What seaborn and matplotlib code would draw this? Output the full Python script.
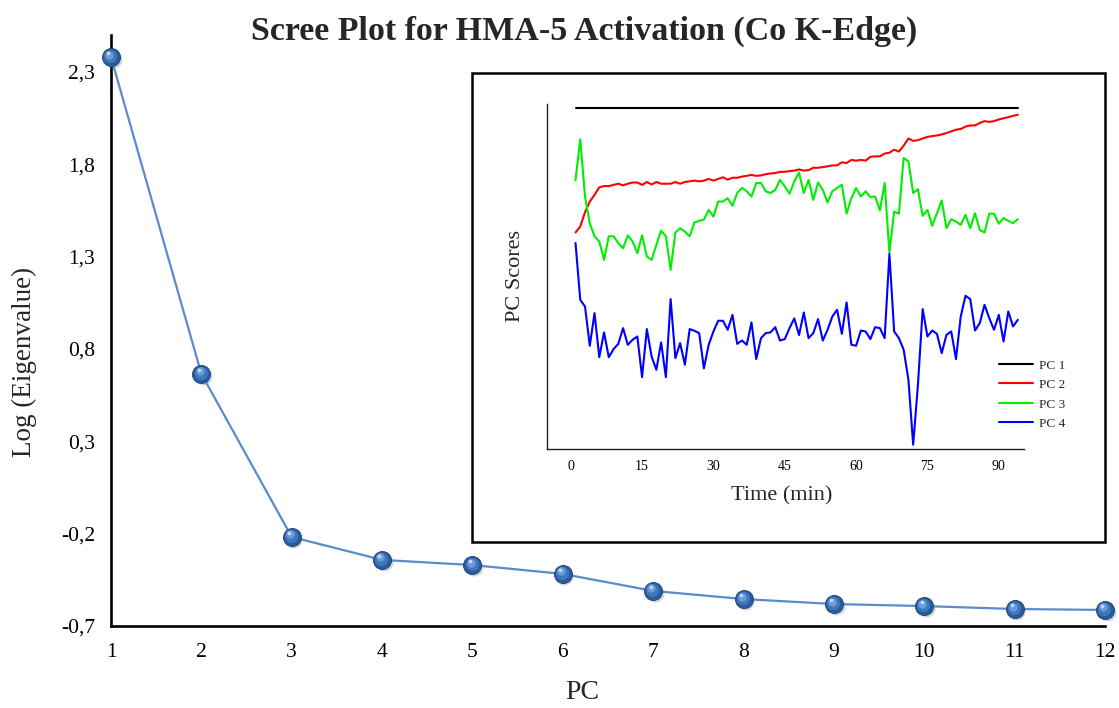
import numpy as np
import pandas as pd
import matplotlib
matplotlib.use("Agg")
import matplotlib.pyplot as plt
import matplotlib.transforms as mtransforms
from matplotlib.patches import Rectangle
from matplotlib.ticker import FixedLocator, MultipleLocator
import seaborn as sns

# ---- scree data ----
components = list(range(1, 13))
log_eigenvalues = [2.38, 0.665, -0.218, -0.342, -0.370, -0.418,
                   -0.510, -0.554, -0.581, -0.592, -0.608, -0.613]
y_ticks = [-0.7, -0.2, 0.3, 0.8, 1.3, 1.8, 2.3]
y_tick_labels = ["-0,7", "-0,2", "0,3", "0,8", "1,3", "1,8", "2,3"]
x_ticks = components

# ---- PC score traces (arbitrary units) ----
time_min = list(range(1, 95))
pc1_level = 13.33
pc1 = [pc1_level] * len(time_min)
pc2 = [8.10, 8.35, 8.95, 9.40, 9.68, 10.00, 10.05, 10.05, 10.10, 10.15,
       10.08, 10.15, 10.20, 10.20, 10.10, 10.22, 10.12, 10.22, 10.15, 10.15,
       10.15, 10.22, 10.15, 10.22, 10.25, 10.28, 10.25, 10.28, 10.35, 10.28,
       10.35, 10.42, 10.32, 10.40, 10.40, 10.45, 10.48, 10.52, 10.48, 10.50,
       10.55, 10.58, 10.60, 10.65, 10.65, 10.68, 10.70, 10.75, 10.70, 10.72,
       10.82, 10.82, 10.85, 10.88, 10.92, 10.92, 11.05, 11.02, 11.15, 11.12,
       11.15, 11.12, 11.28, 11.30, 11.30, 11.42, 11.45, 11.58, 11.50, 11.75,
       12.05, 11.95, 11.98, 12.05, 12.12, 12.15, 12.18, 12.22, 12.28, 12.35,
       12.42, 12.45, 12.55, 12.60, 12.60, 12.70, 12.78, 12.75, 12.78, 12.85,
       12.90, 12.95, 13.00, 13.05]
pc3 = [10.29, 12.02, 9.61, 8.49, 7.94, 7.72, 6.95, 7.94, 7.94, 7.65,
       7.44, 7.98, 7.72, 7.23, 7.98, 7.09, 6.95, 7.58, 8.18, 7.94,
       6.53, 8.10, 8.28, 8.14, 7.94, 8.52, 8.59, 8.64, 9.05, 8.77,
       9.40, 9.40, 9.54, 9.22, 9.76, 9.97, 9.83, 9.61, 10.18, 10.18,
       9.83, 9.76, 9.89, 10.31, 10.04, 9.73, 10.25, 10.62, 9.76, 10.31,
       9.47, 10.20, 9.89, 9.36, 9.83, 9.97, 10.11, 8.89, 9.54, 9.97,
       9.61, 9.83, 9.59, 9.61, 9.03, 10.18, 7.25, 8.98, 8.89, 11.23,
       11.09, 9.76, 9.92, 8.80, 9.05, 8.38, 8.91, 9.45, 8.28, 8.66,
       8.56, 8.42, 8.84, 8.28, 8.91, 8.21, 8.10, 8.89, 8.89, 8.47,
       8.71, 8.59, 8.49, 8.66]
pc4 = [7.66, 5.27, 4.99, 3.34, 4.71, 2.86, 3.90, 2.86, 3.20, 3.42,
       4.08, 3.38, 3.59, 3.73, 2.02, 4.04, 2.89, 2.33, 3.48, 2.02,
       5.30, 2.82, 3.45, 2.54, 4.04, 3.97, 3.87, 2.39, 3.38, 3.94,
       4.39, 4.39, 4.01, 4.64, 3.42, 3.56, 3.38, 4.32, 2.78, 3.66,
       3.87, 3.90, 4.12, 3.56, 3.62, 4.08, 4.49, 3.79, 4.74, 3.66,
       3.87, 4.46, 3.56, 4.01, 4.57, 4.85, 3.84, 5.16, 3.38, 3.34,
       3.98, 3.94, 3.62, 4.12, 4.08, 3.66, 7.20, 3.94, 3.66, 3.17,
       1.91, -0.82, 1.70, 4.88, 3.73, 3.98, 3.84, 3.03, 3.80, 3.94,
       2.78, 4.57, 5.44, 5.30, 3.98, 4.29, 5.06, 4.50, 4.01, 4.64,
       3.52, 4.78, 4.15, 4.43]
pc_names = ["PC 1", "PC 2", "PC 3", "PC 4"]
pc_colors = {"PC 1": "#000000", "PC 2": "#FF0000", "PC 3": "#00EE00", "PC 4": "#0000FF"}
inset_x_ticks = [0, 15, 30, 45, 60, 75, 90]

sns.set_style("white")
plt.rcParams["font.family"] = ["Liberation Serif", "DejaVu Serif"]

fig = plt.figure(figsize=(11.19, 7.08), dpi=100)

# ---------------- main scree plot ----------------
ax = fig.add_axes([0.0992, 0.1158, 0.8883, 0.8348])
scree = pd.DataFrame({"PC": components, "LogEig": log_eigenvalues})
sns.lineplot(data=scree, x="PC", y="LogEig", ax=ax, color="#5B8BCB",
             lw=1.6, zorder=2)

def shifted(dx, dy):
    return ax.transData + mtransforms.ScaledTranslation(dx / 72, dy / 72, fig.dpi_scale_trans)

# sphere-like markers built from layered discs
ax.plot(components, log_eigenvalues, "o", ms=13, color="#7f8c9c", alpha=0.35,
        mew=0, transform=shifted(1.2, -1.6), clip_on=False, zorder=3)
ax.plot(components, log_eigenvalues, "o", ms=13, mfc="#2A5B9B", mec="#1D4478",
        mew=0.6, clip_on=False, zorder=4)
ax.plot(components, log_eigenvalues, "o", ms=9.5, color="#3F77BC", mew=0,
        transform=shifted(-0.6, 0.8), clip_on=False, zorder=5)
ax.plot(components, log_eigenvalues, "o", ms=6.0, color="#6C9BD6", mew=0,
        transform=shifted(-1.3, 1.8), clip_on=False, zorder=6)
ax.plot(components, log_eigenvalues, "o", ms=2.6, color="#C4DAF4", mew=0,
        transform=shifted(-1.9, 2.7), clip_on=False, zorder=7)

ax.set_xlim(1, 12)
ax.set_ylim(-0.7, 2.5)
ax.set_xticks(x_ticks)
ax.yaxis.set_major_locator(FixedLocator(y_ticks))
ax.set_yticklabels(y_tick_labels)
for side in ("top", "right"):
    ax.spines[side].set_visible(False)
for side in ("left", "bottom"):
    ax.spines[side].set_linewidth(1.9)
    ax.spines[side].set_color("black")
ax.tick_params(axis="both", direction="inout", length=11, width=1.6,
               colors="black", labelsize=15.5)
ax.tick_params(axis="x", pad=7)
ax.tick_params(axis="y", pad=6)
ax.set_xlabel("PC", fontsize=20)
ax.set_ylabel("Log (Eigenvalue)", fontsize=19.5)
ax.xaxis.set_label_coords(0.474, -0.0914)
ax.yaxis.set_label_coords(-0.0744, 0.447)

fig.text(584 / 1119, 1 - 31 / 708, "Scree Plot for HMA-5 Activation (Co K-Edge)",
         ha="center", va="center", fontsize=24.5, fontweight="bold")

# ---------------- inset: PC scores over time ----------------
frame = Rectangle((0.4218, 0.2345), 0.5657, 0.6624, transform=fig.transFigure,
                  facecolor="white", edgecolor="black", lw=1.8, zorder=1)
fig.add_artist(frame)

ax_in = fig.add_axes([0.4888, 0.3658, 0.4263, 0.4873])
ax_in.set_zorder(3)
ax_in.patch.set_alpha(0)

scores = pd.DataFrame({"Time": time_min, "PC 1": pc1, "PC 2": pc2,
                       "PC 3": pc3, "PC 4": pc4})
scores_long = scores.melt(id_vars="Time", var_name="Component", value_name="Score")
sns.lineplot(data=scores_long, x="Time", y="Score", hue="Component",
             hue_order=pc_names, palette=pc_colors, ax=ax_in, lw=1.5)

ax_in.set_xlim(-5, 95.3)
ax_in.set_ylim(-1.0, 13.5)
ax_in.set_xticks(inset_x_ticks)
ax_in.xaxis.set_minor_locator(MultipleLocator(7.5))
ax_in.set_yticks(range(14))
for side in ("top", "right"):
    ax_in.spines[side].set_visible(False)
for side in ("left", "bottom"):
    ax_in.spines[side].set_linewidth(1.0)
    ax_in.spines[side].set_color("#222222")
ax_in.tick_params(axis="x", which="both", direction="out", length=4, width=0.9,
                  colors="#222222", labelsize=10, labelcolor="black", pad=4)
ax_in.tick_params(axis="y", direction="in", length=5, width=0.9,
                  colors="#222222", labelleft=False)
ax_in.set_xlabel("Time (min)", fontsize=16)
ax_in.set_ylabel("PC Scores", fontsize=16)
ax_in.xaxis.set_label_coords((782 - 547) / 477, (449 - 486) / 345)
ax_in.yaxis.set_label_coords((525 - 547) / 477, (449 - 276) / 345)

handles, labels = ax_in.get_legend_handles_labels()
ax_in.legend(handles, labels, loc="upper left", bbox_to_anchor=(0.947, 0.26),
             frameon=False, fontsize=9.5, handlelength=2.6, handletextpad=0.45,
             labelspacing=0.55, borderpad=0, borderaxespad=0)

fig.savefig("out.png", dpi=100)
